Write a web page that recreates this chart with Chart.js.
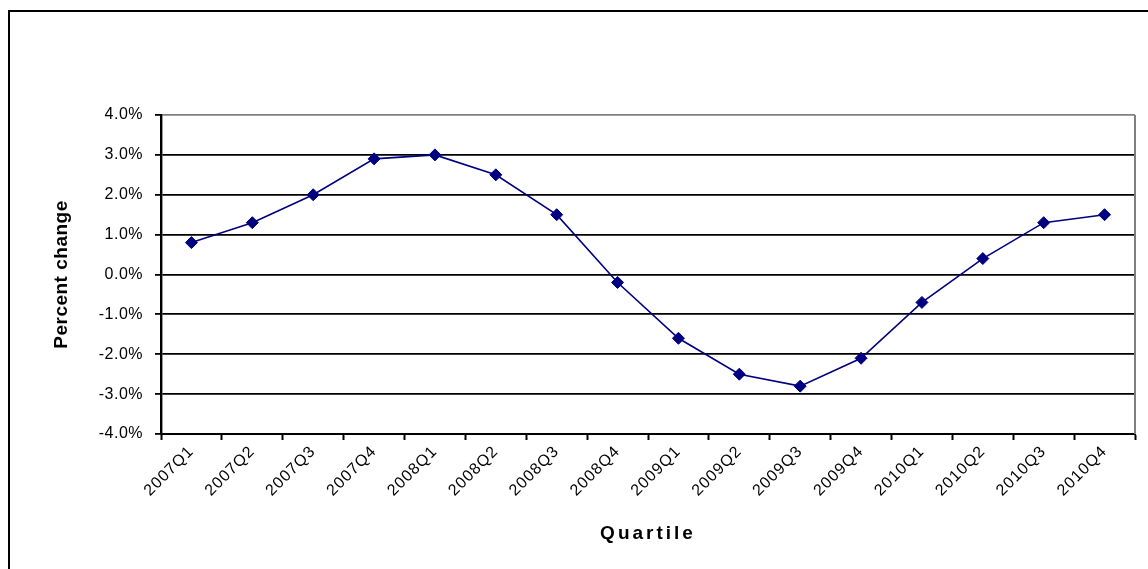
<!DOCTYPE html>
<html>
<head>
<meta charset="utf-8">
<script src="https://cdn.jsdelivr.net/npm/chart.js@4/dist/chart.umd.min.js"></script>
<style>
  html, body { margin: 0; padding: 0; background: #ffffff; }
  #wrap { position: relative; width: 1148px; height: 569px; }
</style>
</head>
<body>
<div id="wrap"><canvas id="quarterChart" width="1148" height="569"></canvas></div>
<script>
// Data
const quarters = ['2007Q1', '2007Q2', '2007Q3', '2007Q4', '2008Q1', '2008Q2', '2008Q3', '2008Q4',
                  '2009Q1', '2009Q2', '2009Q3', '2009Q4', '2010Q1', '2010Q2', '2010Q3', '2010Q4'];
const percentChange = [0.8, 1.3, 2.0, 2.9, 3.0, 2.5, 1.5, -0.2, -1.6, -2.5, -2.8, -2.1, -0.7, 0.4, 1.3, 1.5];
const yMin = -4;
const yMax = 4;
const yStep = 1;

const navy = '#000080';
const fontFamily = "Arial, 'Liberation Sans', sans-serif";

// Frame around the whole chart + grey right edge of the plot area
const framePlugin = {
  id: 'frame',
  afterDraw(chart) {
    const ctx = chart.ctx;
    const area = chart.chartArea;
    ctx.save();
    ctx.fillStyle = '#000000';
    ctx.fillRect(8, 10, 2, 600);
    ctx.fillRect(8, 10, 1200, 2);
    ctx.strokeStyle = '#808080';
    ctx.lineWidth = 2;
    ctx.beginPath();
    ctx.moveTo(area.right, area.top);
    ctx.lineTo(area.right, area.bottom);
    ctx.stroke();
    ctx.restore();
  }
};

// Excel spreads its chart text a little, mimic it with canvas letter spacing
function withSpacing(scale, name, spacing) {
  const orig = scale[name];
  scale[name] = function() {
    this.ctx.save();
    this.ctx.letterSpacing = spacing;
    orig.apply(this, arguments);
    this.ctx.restore();
  };
}

const spacingPlugin = {
  id: 'spacing',
  beforeDraw(chart) {
    Object.values(chart.scales).forEach(scale => {
      if (scale._spaced) return;
      if (scale.axis === 'x') {
        withSpacing(scale, 'drawTitle', '3px');
        withSpacing(scale, 'drawLabels', '1px');
      } else {
        withSpacing(scale, 'drawTitle', '0.5px');
        withSpacing(scale, 'drawLabels', '0.5px');
      }
      scale._spaced = true;
    });
  }
};

const ctx = document.getElementById('quarterChart').getContext('2d');
const quarterChart = new Chart(ctx, {
  type: 'line',
  data: {
    labels: quarters,
    datasets: [{
      label: 'Percent change',
      data: percentChange,
      borderColor: navy,
      backgroundColor: navy,
      borderWidth: 1.6,
      tension: 0,
      pointStyle: 'rectRot',
      pointRadius: 6,
      pointHoverRadius: 6,
      pointBackgroundColor: navy,
      pointBorderColor: navy,
      pointBorderWidth: 1
    }]
  },
  options: {
    responsive: false,
    animation: false,
    layout: {
      padding: { top: 115, right: 13, left: 0, bottom: 0 }
    },
    plugins: {
      legend: { display: false },
      tooltip: { enabled: false }
    },
    scales: {
      x: {
        type: 'category',
        offset: true,
        afterFit: function(scale) { scale.height = 135; },
        grid: {
          offset: true,
          drawOnChartArea: false,
          drawTicks: true,
          tickLength: 6,
          tickColor: '#000000',
          tickWidth: 2
        },
        border: { color: '#000000', width: 2 },
        ticks: {
          autoSkip: false,
          minRotation: 45,
          maxRotation: 45,
          padding: 2,
          color: '#000000',
          font: { family: fontFamily, size: 16 }
        },
        title: {
          display: true,
          text: 'Quartile',
          color: '#000000',
          font: { family: fontFamily, size: 19, weight: 'bold' },
          padding: { top: 0, bottom: 24 }
        }
      },
      y: {
        min: yMin,
        max: yMax,
        afterFit: function(scale) { scale.width = 161; },
        grid: {
          color: function(c) { return c.tick && c.tick.value === yMax ? '#808080' : '#000000'; },
          lineWidth: 1.8,
          drawTicks: true,
          tickLength: 6,
          tickColor: '#000000',
          tickWidth: 1.8
        },
        border: { color: '#000000', width: 2.4 },
        ticks: {
          stepSize: yStep,
          padding: 12,
          color: '#000000',
          font: { family: fontFamily, size: 16 },
          callback: function(value) { return value.toFixed(1) + '%'; }
        },
        title: {
          display: true,
          text: 'Percent change',
          color: '#000000',
          font: { family: fontFamily, size: 19, weight: 'bold' },
          padding: { top: 50, bottom: 0 }
        }
      }
    }
  },
  plugins: [framePlugin, spacingPlugin]
});
</script>
</body>
</html>
